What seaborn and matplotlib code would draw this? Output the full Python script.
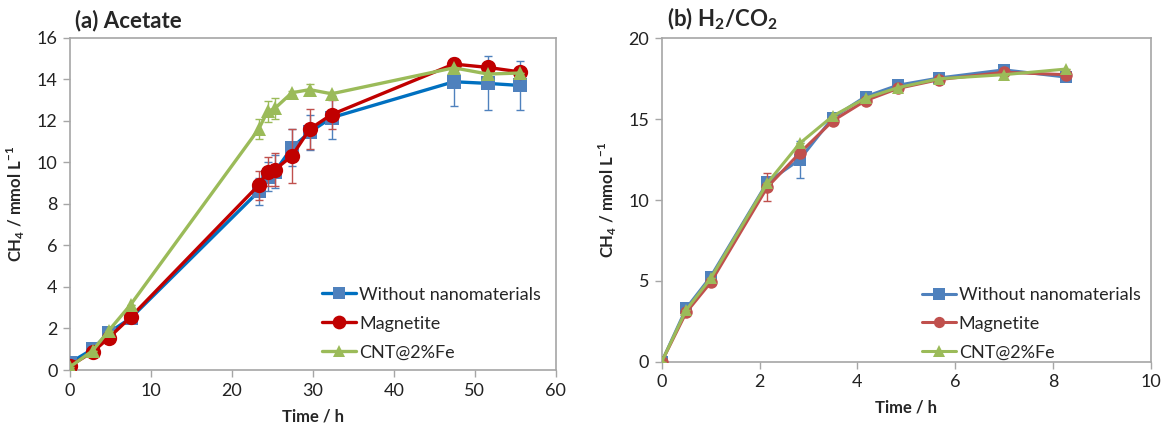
import numpy as np
import pandas as pd
import seaborn as sns
import matplotlib
matplotlib.use("Agg")
import matplotlib.pyplot as plt
from matplotlib.lines import Line2D

# ---- (a) Acetate ----
time_a = [0, 2.8, 4.8, 7.5, 23.3, 24.4, 25.3, 27.4, 29.6, 32.3, 47.4, 51.6, 55.6]
none_a = [0.35, 1.0, 1.8, 2.5, 8.6, 9.3, 9.55, 10.7, 11.45, 12.15, 13.88, 13.8, 13.7]
magn_a = [0.2, 0.87, 1.55, 2.55, 8.9, 9.55, 9.65, 10.3, 11.6, 12.3, 14.73, 14.57, 14.35]
cnt_a = [0.15, 0.93, 1.9, 3.15, 11.6, 12.45, 12.6, 13.35, 13.5, 13.3, 14.55, 14.25, 14.3]
none_a_err = [0, 0, 0, 0, 0.65, 0.7, 0.8, 0.9, 0.85, 1.05, 1.15, 1.3, 1.2]
magn_a_err = [0, 0, 0, 0, 0.7, 0.7, 0.8, 1.3, 0.95, 0.7, 0, 0, 0]
cnt_a_err = [0, 0, 0, 0, 0.5, 0.5, 0.5, 0.1, 0.25, 0.1, 0, 0, 0]

# ---- (b) H2/CO2 ----
time_b = [0, 0.5, 1.0, 2.16, 2.82, 3.5, 4.17, 4.83, 5.68, 7.0, 8.27]
none_b = [0, 3.3, 5.25, 11.1, 12.5, 15.1, 16.4, 17.1, 17.55, 18.05, 17.6]
magn_b = [0, 3.05, 4.9, 10.8, 12.9, 14.9, 16.15, 16.9, 17.45, 17.9, 17.75]
cnt_b = [0, 3.2, 5.15, 11.05, 13.5, 15.2, 16.3, 16.95, 17.5, 17.75, 18.1]
none_b_err = [0, 0, 0, 0, 1.14, 0, 0, 0, 0, 0, 0]
magn_b_err = [0, 0, 0, 0.85, 0, 0, 0, 0, 0, 0, 0]
cnt_b_err = [0, 0, 0, 0, 0, 0, 0, 0, 0, 0, 0]

labels = ["Without nanomaterials", "Magnetite", "CNT@2%Fe"]

sns.set_style("white")
plt.rcParams["font.family"] = ["Lato", "DejaVu Sans"]
plt.rcParams["mathtext.fontset"] = "custom"
plt.rcParams["mathtext.rm"] = "Lato"
plt.rcParams["mathtext.bf"] = "Lato:bold"

fig = plt.figure(figsize=(11.62, 4.28), dpi=100)
ax_a = fig.add_axes([0.0602, 0.1355, 0.4182, 0.7764])
ax_b = fig.add_axes([0.5695, 0.1549, 0.4208, 0.7556])

GRAY = "#A6A6A6"


def draw_panel(ax, t, series, errs, styles):
    handles = []
    for (vals, err, st, lab) in zip(series, errs, styles, labels):
        df = pd.DataFrame({"t": t, "v": vals})
        ax.errorbar(t, vals, yerr=err, fmt="none", ecolor=st["ecolor"],
                    elinewidth=1.0, capsize=3, capthick=1.0, zorder=st["z"] - 0.5)
        sns.lineplot(data=df, x="t", y="v", ax=ax, color=st["line"],
                     linewidth=st["lw"], marker=st["marker"],
                     markersize=st["ms"], markerfacecolor=st["mfc"],
                     markeredgecolor=st["mfc"], markeredgewidth=0,
                     zorder=st["z"], legend=False)
        handles.append(Line2D([0], [0], color=st["line"], lw=st["lw"],
                              marker=st["marker"], markersize=st["ms"] * 0.9,
                              markerfacecolor=st["mfc"], markeredgewidth=0))
    for sp in ax.spines.values():
        sp.set_color(GRAY)
        sp.set_linewidth(1.2)
    ax.tick_params(axis="both", which="major", direction="out", length=5,
                   width=1.0, color=GRAY, labelsize=13, labelcolor="#222222",
                   bottom=True, left=True, pad=4)
    ax.set_xlabel("Time / h", fontsize=12, fontweight="bold", labelpad=7)
    ax.set_ylabel(r"CH$_\mathbf{4}$ / mmol L$^\mathbf{-1}$", fontsize=12,
                  fontweight="bold", labelpad=7)
    return handles


styles_a = [
    dict(line="#0070C0", mfc="#4F81BD", ecolor="#4F81BD", marker="s", ms=10, lw=2.4, z=3),
    dict(line="#C00000", mfc="#C00000", ecolor="#C0504D", marker="o", ms=11, lw=2.4, z=4),
    dict(line="#9BBB59", mfc="#9BBB59", ecolor="#9BBB59", marker="^", ms=10, lw=2.4, z=5),
]
styles_b = [
    dict(line="#4F81BD", mfc="#4F81BD", ecolor="#4F81BD", marker="s", ms=9, lw=2.2, z=3),
    dict(line="#C0504D", mfc="#C0504D", ecolor="#C0504D", marker="o", ms=9, lw=2.2, z=4),
    dict(line="#9BBB59", mfc="#9BBB59", ecolor="#9BBB59", marker="^", ms=9, lw=2.2, z=5),
]

h_a = draw_panel(ax_a, time_a, [none_a, magn_a, cnt_a],
                 [none_a_err, magn_a_err, cnt_a_err], styles_a)
ax_a.set_xlim(0, 60)
ax_a.set_ylim(0, 16)
ax_a.set_xticks(range(0, 61, 10))
ax_a.set_yticks(range(0, 17, 2))
ax_a.text(0.01, 1.02, "(a) Acetate", transform=ax_a.transAxes, fontsize=16,
          fontweight="bold", ha="left", va="bottom")
ax_a.legend(h_a, labels, loc="lower right", bbox_to_anchor=(0.995, -0.01),
            frameon=False, fontsize=13, handlelength=1.9, handletextpad=0.15,
            labelspacing=0.72, borderaxespad=0.3)

h_b = draw_panel(ax_b, time_b, [none_b, magn_b, cnt_b],
                 [none_b_err, magn_b_err, cnt_b_err], styles_b)
ax_b.set_xlim(0, 10)
ax_b.set_ylim(0, 20)
ax_b.set_xticks(range(0, 11, 2))
ax_b.set_yticks(range(0, 21, 5))
ax_b.text(0.01, 1.02, r"(b) H$_\mathbf{2}$/CO$_\mathbf{2}$", transform=ax_b.transAxes,
          fontsize=16, fontweight="bold", ha="left", va="bottom")
ax_b.legend(h_b, labels, loc="lower right", bbox_to_anchor=(1.005, -0.035),
            frameon=False, fontsize=13, handlelength=1.9, handletextpad=0.15,
            labelspacing=0.7, borderaxespad=0.3)

fig.savefig("out.png", dpi=100)
